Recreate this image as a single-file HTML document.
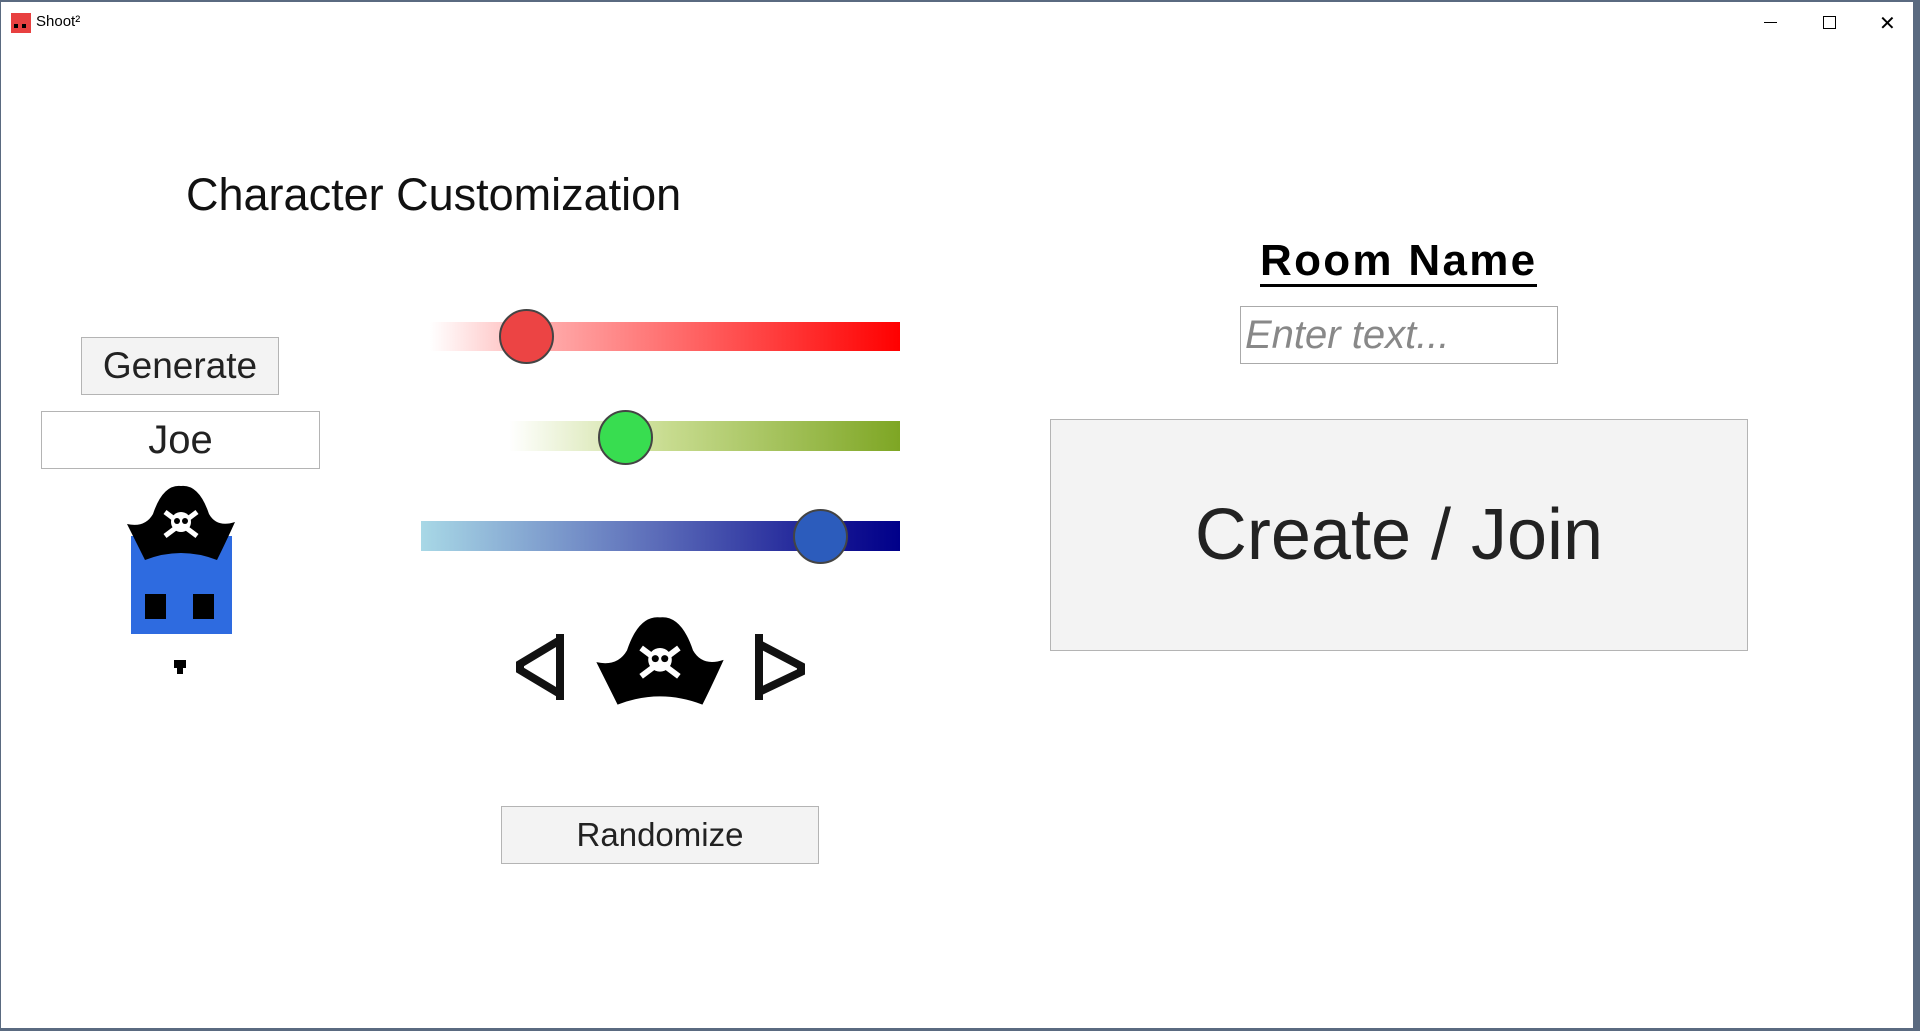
<!DOCTYPE html>
<html><head><style>
body{margin:0;width:1920px;height:1031px;background:#5a6a80;position:relative;overflow:hidden;font-family:"Liberation Sans",sans-serif}
.win{position:absolute;left:1px;top:2px;width:1912px;height:1026px;background:#fff}
.a{position:absolute}
.btn{position:absolute;background:#f3f3f3;border:1px solid #b4b4b4;box-sizing:border-box;display:flex;align-items:center;justify-content:center;color:#222}
.knob{position:absolute;border-radius:50%;border:2px solid #444;box-sizing:border-box}
</style></head><body>
<div class="win">
<div class="a" style="left:10px;top:11px;width:20px;height:20px;background:#e84040"></div>
<div class="a" style="left:13px;top:22px;width:4px;height:4px;background:#000"></div>
<div class="a" style="left:21px;top:22px;width:4px;height:4px;background:#000"></div>
<div class="a" style="left:35px;top:11px;font-size:15px;color:#000">Shoot²</div>
<div class="a" style="left:1763px;top:20px;width:13px;height:1px;background:#000"></div>
<div class="a" style="left:1822px;top:14px;width:11px;height:11px;border:1px solid #000"></div>
<div class="a" style="left:1878px;top:9px;font-size:20px;color:#000">✕</div>

<div class="a" style="left:185px;top:167px;font-size:45px;color:#111">Character Customization</div>

<div class="btn" style="left:80px;top:335px;width:198px;height:58px;font-size:37px">Generate</div>
<div class="btn" style="left:40px;top:409px;width:279px;height:58px;font-size:40px;background:#fff">Joe</div>

<div class="a" style="left:130px;top:534px;width:101px;height:98px;background:#2e6be0"></div>
<div class="a" style="left:144px;top:592px;width:21px;height:25px;background:#000"></div>
<div class="a" style="left:192px;top:592px;width:21px;height:25px;background:#000"></div>
<svg class="a" style="left:124px;top:482px" width="112" height="78" viewBox="0 0 112 78">
<path d="M2 40 Q20 44 28 30 Q38 0 56 2 Q74 0 84 30 Q92 44 110 38 Q100 60 92 76 Q56 62 20 76 Q10 56 2 40Z" fill="#000"/>
<circle cx="56" cy="38" r="10" fill="#fff"/><path d="M40 28 L72 52 M72 28 L40 52" stroke="#fff" stroke-width="5"/>
<circle cx="52" cy="37" r="3" fill="#000"/><circle cx="60" cy="37" r="3" fill="#000"/></svg>
<div class="a" style="left:173px;top:658px;width:12px;height:8px;background:#000"></div>
<div class="a" style="left:176px;top:666px;width:6px;height:6px;background:#000"></div>

<div class="a" style="left:429px;top:320px;width:470px;height:29px;background:linear-gradient(90deg,rgba(255,0,0,0),#ffaaaa 25%,#ff0000)"></div>
<div class="knob" style="left:498px;top:307px;width:55px;height:55px;background:#ec4444"></div>
<div class="a" style="left:508px;top:419px;width:391px;height:30px;background:linear-gradient(90deg,rgba(240,250,220,0),#c8dc90 40%,#7ea624)"></div>
<div class="knob" style="left:597px;top:408px;width:55px;height:55px;background:#38dd50"></div>
<div class="a" style="left:420px;top:519px;width:479px;height:30px;background:linear-gradient(90deg,#a8d8e6,#5a6ab8 50%,#101090 90%,#00008a)"></div>
<div class="knob" style="left:792px;top:507px;width:55px;height:55px;background:#2c5cbc"></div>

<svg class="a" style="left:509px;top:632px" width="60" height="68" viewBox="0 0 60 68"><path d="M50 0 V66 M50 6 L10 30 L10 36 L50 60" stroke="#111" stroke-width="8" fill="none"/></svg>
<svg class="a" style="left:593px;top:606px" width="132" height="106" viewBox="0 0 112 78">
<path d="M2 40 Q20 44 28 30 Q38 0 56 2 Q74 0 84 30 Q92 44 110 38 Q100 60 92 76 Q56 62 20 76 Q10 56 2 40Z" fill="#000"/>
<circle cx="56" cy="38" r="10" fill="#fff"/><path d="M40 28 L72 52 M72 28 L40 52" stroke="#fff" stroke-width="5"/>
<circle cx="52" cy="37" r="3" fill="#000"/><circle cx="60" cy="37" r="3" fill="#000"/></svg>
<svg class="a" style="left:752px;top:632px" width="60" height="68" viewBox="0 0 60 68"><path d="M6 0 V66 M6 10 L48 32 L48 38 L6 58" stroke="#111" stroke-width="8" fill="none"/></svg>

<div class="btn" style="left:500px;top:804px;width:318px;height:58px;font-size:33px">Randomize</div>

<div class="a" style="left:1259px;top:236px;font-size:44px;font-weight:bold;letter-spacing:2.3px;color:#000;border-bottom:3px solid #000;line-height:46px">Room Name</div>
<div class="a" style="left:1239px;top:304px;width:318px;height:58px;border:1px solid #aaa;box-sizing:border-box;background:#fff"></div>
<div class="a" style="left:1244px;top:311px;font-size:40px;font-style:italic;color:#888">Enter text...</div>
<div class="btn" style="left:1049px;top:417px;width:698px;height:232px;font-size:72px">Create / Join</div>
</div>
</body></html>
